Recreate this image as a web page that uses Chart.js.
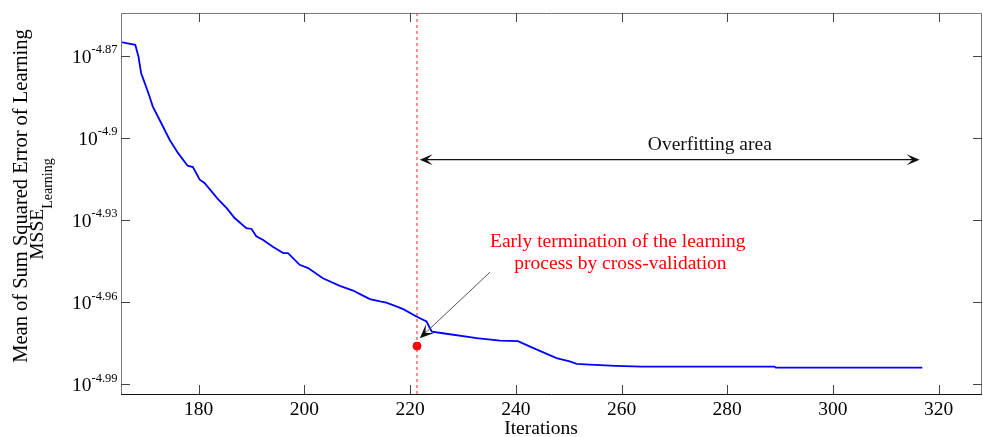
<!DOCTYPE html>
<html>
<head>
<meta charset="utf-8">
<script src="https://cdn.jsdelivr.net/npm/chart.js@4.4.1/dist/chart.umd.min.js"></script>
<style>
  html, body { margin: 0; padding: 0; background: #fff; }
  #chart { display: block; }
</style>
</head>
<body>
<canvas id="chart" width="983" height="437"></canvas>
<script>
// Curva de aprendizaje: iteración vs exponente de log10(MSSE)
const iteraciones = [165.2, 168.0, 168.6, 169.1, 169.8, 170.7, 171.3, 172.9, 174.5, 176.1,
  177.9, 178.9, 180.2, 181.1, 183.6, 185.3, 186.8, 189.0, 190.0, 190.9,
  192.2, 194.1, 196.0, 196.9, 199.1, 200.7, 203.5, 206.7, 209.2, 210.8,
  212.4, 214.3, 215.5, 217.4, 218.7, 221.2, 223.1, 224.1, 226.2, 232.6,
  237.0, 240.4, 242.7, 245.2, 247.7, 250.2, 251.5, 254.0, 258.9, 263.8,
  288.9, 289.2, 316.9];
const logMsse = [-4.8650, -4.8660, -4.8703, -4.8763, -4.8800, -4.8849, -4.8885, -4.8946, -4.9007, -4.9056,
  -4.9102, -4.9107, -4.9153, -4.9165, -4.9223, -4.9257, -4.9293, -4.9330, -4.9333, -4.9360,
  -4.9373, -4.9399, -4.9421, -4.9421, -4.9464, -4.9476, -4.9513, -4.9541, -4.9558, -4.9574,
  -4.9589, -4.9598, -4.9602, -4.9616, -4.9626, -4.9653, -4.9671, -4.9708, -4.9714, -4.9732,
  -4.9741, -4.9743, -4.9763, -4.9784, -4.9805, -4.9817, -4.9826, -4.9829, -4.9833, -4.9836,
  -4.9836, -4.9840, -4.9840];

// Ejes
const xTicks = [180, 200, 220, 240, 260, 280, 300, 320];
const yTicks = [-4.87, -4.90, -4.93, -4.96, -4.99];
const yTickLabels = ['-4.87', '-4.9', '-4.93', '-4.96', '-4.99'];
const xMin = 165.3, xMax = 328.2;
const yMin = -4.9936, yMax = -4.8544;

// Parada temprana y zona de sobreajuste
const paroX = 221.3;
const paroY = -4.9761;
const sobreajusteX = [221.8, 316.4];
const sobreajusteY = -4.9080;
const flechaParo = [[235.1, -4.9491], [221.84, -4.9732]];

const serif = '"Liberation Serif", "Times New Roman", serif';

function puntaFlecha(ctx, x, y, ang, largo, ancho) {
  ctx.save();
  ctx.translate(x, y);
  ctx.rotate(ang);
  ctx.beginPath();
  ctx.moveTo(0, 0);
  ctx.lineTo(-largo, -ancho);
  ctx.lineTo(-largo * 0.55, 0);
  ctx.lineTo(-largo, ancho);
  ctx.closePath();
  ctx.fill();
  ctx.restore();
}

const decoracion = {
  id: 'decoracion',
  afterDraw(chart) {
    const { ctx, chartArea: a, scales: { x, y } } = chart;
    ctx.save();

    // Marco
    ctx.lineWidth = 1;
    ctx.strokeStyle = '#777';
    ctx.beginPath();
    ctx.moveTo(a.left + 0.5, a.bottom);
    ctx.lineTo(a.left + 0.5, a.top + 0.5);
    ctx.lineTo(a.right - 0.5, a.top + 0.5);
    ctx.lineTo(a.right - 0.5, a.bottom);
    ctx.stroke();
    ctx.strokeStyle = '#111';
    ctx.beginPath();
    ctx.moveTo(a.left, a.bottom + 0.5);
    ctx.lineTo(a.right, a.bottom + 0.5);
    ctx.stroke();

    // Marcas hacia dentro
    ctx.strokeStyle = '#444';
    ctx.beginPath();
    x.ticks.forEach(t => {
      const px = Math.round(x.getPixelForValue(t.value)) + 0.5;
      ctx.moveTo(px, a.bottom); ctx.lineTo(px, a.bottom - 9);
      ctx.moveTo(px, a.top); ctx.lineTo(px, a.top + 9);
    });
    y.ticks.forEach(t => {
      const py = Math.round(y.getPixelForValue(t.value)) + 0.5;
      ctx.moveTo(a.left, py); ctx.lineTo(a.left + 9, py);
      ctx.moveTo(a.right, py); ctx.lineTo(a.right - 9, py);
    });
    ctx.stroke();

    // Etiquetas del eje y: 10^exponente
    ctx.fillStyle = '#000';
    ctx.textAlign = 'left';
    ctx.textBaseline = 'alphabetic';
    yTicks.forEach((v, i) => {
      const py = y.getPixelForValue(v);
      ctx.font = '12.5px ' + serif;
      const wSup = ctx.measureText(yTickLabels[i]).width;
      ctx.font = '19.5px ' + serif;
      const wBase = ctx.measureText('10').width;
      const xSup = 117.5 - wSup;
      ctx.fillText('10', xSup - wBase, py + 7);
      ctx.font = '12.5px ' + serif;
      ctx.fillText(yTickLabels[i], xSup, py - 2.5);
    });

    // Título del eje x
    ctx.font = '19.5px ' + serif;
    ctx.textAlign = 'center';
    ctx.textBaseline = 'middle';
    ctx.fillText('Iterations', 541, 429);

    // Título del eje y en dos líneas
    ctx.textBaseline = 'alphabetic';
    ctx.save();
    ctx.translate(27, 196);
    ctx.rotate(-Math.PI / 2);
    ctx.font = '20.5px ' + serif;
    ctx.textAlign = 'center';
    ctx.fillText('Mean of Sum Squared Error of Learning', 0, 0);
    ctx.restore();
    ctx.save();
    ctx.translate(43, 209);
    ctx.rotate(-Math.PI / 2);
    ctx.font = '19.5px ' + serif;
    const wM = ctx.measureText('MSSE').width;
    ctx.font = '14px ' + serif;
    const wL = ctx.measureText('Learning').width;
    const x0 = -(wM + wL) / 2;
    ctx.textAlign = 'left';
    ctx.font = '19.5px ' + serif;
    ctx.fillText('MSSE', x0, 0);
    ctx.font = '14px ' + serif;
    ctx.fillText('Learning', x0 + wM, 9);
    ctx.restore();

    // Flecha doble: zona de sobreajuste
    const yA = y.getPixelForValue(sobreajusteY);
    const xa = x.getPixelForValue(sobreajusteX[0]);
    const xb = x.getPixelForValue(sobreajusteX[1]);
    ctx.strokeStyle = '#111';
    ctx.fillStyle = '#111';
    ctx.lineWidth = 1.2;
    ctx.beginPath();
    ctx.moveTo(xa + 4, yA); ctx.lineTo(xb - 4, yA);
    ctx.stroke();
    puntaFlecha(ctx, xa, yA, Math.PI, 13, 5.5);
    puntaFlecha(ctx, xb, yA, 0, 13, 5.5);
    ctx.font = '19.5px ' + serif;
    ctx.textAlign = 'center';
    ctx.textBaseline = 'middle';
    ctx.fillText('Overfitting area', x.getPixelForValue(276.7), y.getPixelForValue(-4.9025));

    // Flecha hacia el punto de parada
    const p0x = x.getPixelForValue(flechaParo[0][0]), p0y = y.getPixelForValue(flechaParo[0][1]);
    const p1x = x.getPixelForValue(flechaParo[1][0]), p1y = y.getPixelForValue(flechaParo[1][1]);
    const ang = Math.atan2(p1y - p0y, p1x - p0x);
    ctx.strokeStyle = '#555';
    ctx.lineWidth = 1;
    ctx.beginPath();
    ctx.moveTo(p0x, p0y);
    ctx.lineTo(p1x - 6 * Math.cos(ang), p1y - 6 * Math.sin(ang));
    ctx.stroke();
    ctx.fillStyle = '#111';
    puntaFlecha(ctx, p1x, p1y, ang, 14, 6);

    // Texto en rojo
    ctx.fillStyle = '#ff0000';
    ctx.font = '19.5px ' + serif;
    ctx.fillText('Early termination of the learning', x.getPixelForValue(259.3), y.getPixelForValue(-4.9380));
    ctx.fillText('process by cross-validation', x.getPixelForValue(259.8), y.getPixelForValue(-4.9460));

    ctx.restore();
  }
};

const ctx = document.getElementById('chart').getContext('2d');

const chart = new Chart(ctx, {
  type: 'scatter',
  data: {
    datasets: [
      {
        label: 'MSSE',
        data: iteraciones.map((v, i) => ({ x: v, y: logMsse[i] })),
        showLine: true,
        borderColor: '#0000ff',
        borderWidth: 1.8,
        pointRadius: 0,
        tension: 0,
      },
      {
        label: 'Parada',
        data: [{ x: paroX, y: yMin }, { x: paroX, y: yMax }],
        showLine: true,
        borderColor: '#ff2020',
        borderWidth: 1,
        borderDash: [3, 3],
        pointRadius: 0,
      },
      {
        label: 'Punto',
        data: [{ x: paroX, y: paroY }],
        backgroundColor: '#ff0000',
        borderColor: '#ff0000',
        pointRadius: 4,
      }
    ]
  },
  options: {
    responsive: false,
    animation: false,
    devicePixelRatio: 1,
    layout: { autoPadding: false, padding: { top: 13, right: 1, left: 0, bottom: 0 } },
    plugins: { legend: { display: false }, tooltip: { enabled: false } },
    scales: {
      x: {
        type: 'linear',
        min: xMin,
        max: xMax,
        afterBuildTicks: s => { s.ticks = xTicks.map(v => ({ value: v })); },
        afterFit: s => { s.height = 43; },
        grid: { display: false },
        border: { display: false },
        ticks: {
          font: { family: serif, size: 19.5 },
          color: '#000',
          padding: -4,
          maxRotation: 0,
        },
        title: { display: false }
      },
      y: {
        type: 'linear',
        min: yMin,
        max: yMax,
        afterBuildTicks: s => { s.ticks = yTicks.map(v => ({ value: v })); },
        afterFit: s => { s.width = 121; },
        grid: { display: false },
        border: { display: false },
        ticks: { display: false },
      }
    }
  },
  plugins: [decoracion]
});
</script>
</body>
</html>
